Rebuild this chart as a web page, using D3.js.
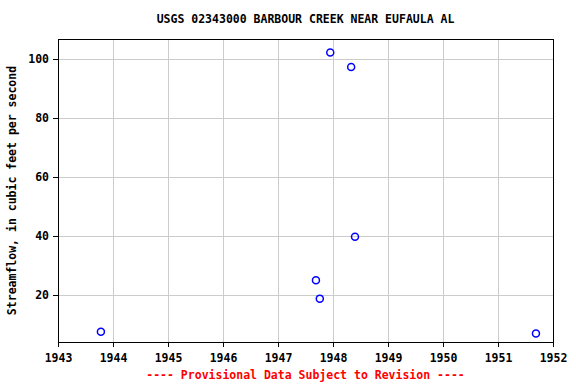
<!DOCTYPE html>
<html>
<head>
<meta charset="utf-8">
<script src="https://cdn.jsdelivr.net/npm/d3@7"></script>
<style>
  body { margin: 0; background: #fff; }
  text { font-family: "DejaVu Sans Mono", "Liberation Mono", monospace; font-weight: bold; }
  line, rect { shape-rendering: crispEdges; }
</style>
</head>
<body>
<svg id="chart" width="576" height="384"></svg>
<script>
// measurement dates (decimal years) and streamflow, cfs
const years = [1943.78, 1947.69, 1947.76, 1947.95, 1948.33, 1948.40, 1951.69];
const flows = [7.6, 25.0, 18.8, 102.2, 97.3, 39.8, 7.0];
const xTicks = [1943, 1944, 1945, 1946, 1947, 1948, 1949, 1950, 1951, 1952];
const yTicks = [20, 40, 60, 80, 100];

const svg = d3.select("#chart");
const plotL = 58, plotR = 553, plotT = 39, plotB = 342;
const fs = 11.5;

let x = d3.scaleLinear().domain([1943, 1952]).range([plotL, plotR]);
let y = d3.scaleLinear().domain([4.1, 106.8]).range([plotB, plotT]);

// grid
svg.append("g").selectAll("line")
    .data(xTicks.slice(1, -1))
    .enter().append("line")
    .attr("x1", d => Math.round(x(d)) + 0.5).attr("x2", d => Math.round(x(d)) + 0.5)
    .attr("y1", plotT).attr("y2", plotB)
    .attr("stroke", "#cccccc").attr("stroke-width", 1);
svg.append("g").selectAll("line")
    .data(yTicks)
    .enter().append("line")
    .attr("x1", plotL).attr("x2", plotR)
    .attr("y1", d => Math.round(y(d)) + 0.5).attr("y2", d => Math.round(y(d)) + 0.5)
    .attr("stroke", "#cccccc").attr("stroke-width", 1);

// axes
let xAxis = svg.append("g")
    .attr("transform", "translate(0," + plotB + ")")
    .call(d3.axisBottom(x).tickValues(xTicks).tickFormat(d3.format("d")).tickSize(5));
let yAxis = svg.append("g")
    .attr("transform", "translate(" + plotL + ",0)")
    .call(d3.axisLeft(y).tickValues(yTicks).tickSize(5));
[xAxis, yAxis].forEach(a => {
    a.select(".domain").remove();
    a.selectAll("line").attr("stroke", "#000");
    a.selectAll("text").attr("font-size", fs).attr("fill", "#000")
        .style("font-family", "'DejaVu Sans Mono', monospace").style("font-weight", "bold");
});
xAxis.selectAll("text").attr("dy", "1em");
yAxis.selectAll("text").attr("dx", "-1px");

// frame
svg.append("rect")
    .attr("x", plotL + 0.5).attr("y", plotT + 0.5)
    .attr("width", plotR - plotL).attr("height", plotB - plotT)
    .attr("fill", "none").attr("stroke", "#000").attr("stroke-width", 1);

// points
svg.append("g").selectAll("circle")
    .data(years.map((d, i) => [d, flows[i]]))
    .enter().append("circle")
    .attr("cx", d => x(d[0]))
    .attr("cy", d => y(d[1]))
    .attr("r", 3.5)
    .attr("fill", "none")
    .attr("stroke", "#0000ff")
    .attr("stroke-width", 1.5);

// labels
svg.append("text")
    .attr("x", (plotL + plotR) / 2).attr("y", 23)
    .attr("text-anchor", "middle").attr("font-size", fs)
    .text("USGS 02343000 BARBOUR CREEK NEAR EUFAULA AL");

svg.append("text")
    .attr("transform", "translate(16," + ((plotT + plotB) / 2) + ") rotate(-90)")
    .attr("text-anchor", "middle").attr("font-size", fs)
    .text("Streamflow, in cubic feet per second");

svg.append("text")
    .attr("x", (plotL + plotR) / 2).attr("y", 379)
    .attr("text-anchor", "middle").attr("font-size", fs)
    .attr("fill", "#ff0000")
    .text("---- Provisional Data Subject to Revision ----");
</script>
</body>
</html>
